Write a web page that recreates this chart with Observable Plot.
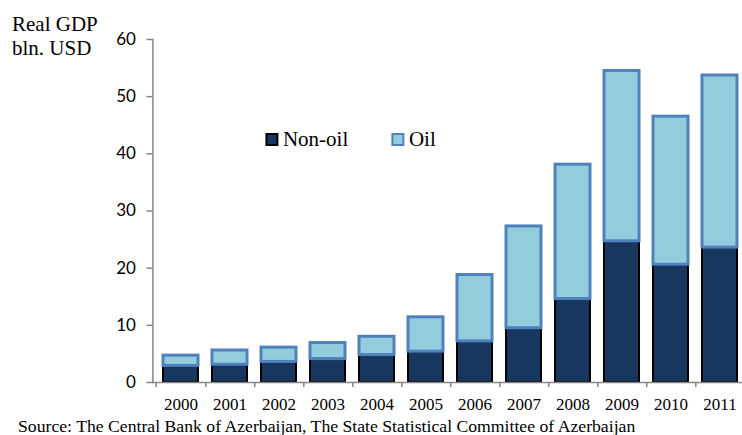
<!DOCTYPE html>
<html>
<head>
<meta charset="utf-8">
<script src="https://cdn.jsdelivr.net/npm/d3@7"></script>
<script src="https://cdn.jsdelivr.net/npm/@observablehq/plot@0.6"></script>
<style>
  html, body { margin: 0; padding: 0; background: #fff; overflow: hidden; }
  #chart { position: relative; width: 742px; height: 435px; overflow: hidden; }
  #chart svg { position: absolute; left: 0; top: 0; max-width: none; }
  .serif { font-family: "Liberation Serif", "Times New Roman", serif; color: #000; position: absolute; }
  #title { left: 12px; top: 12px; font-size: 21px; line-height: 24px; }
  #source { left: 18px; top: 418px; font-size: 17.7px; line-height: 17px; white-space: nowrap; }
</style>
</head>
<body>
<div id="chart">
  <div id="title" class="serif">Real GDP<br>bln. USD</div>
  <div id="source" class="serif">Source: The Central Bank of Azerbaijan, The State Statistical Committee of Azerbaijan</div>
</div>
<script>
// Real GDP of Azerbaijan split into non-oil and oil sectors, bln. USD
const years  = ["2000","2001","2002","2003","2004","2005","2006","2007","2008","2009","2010","2011"];
const nonOil = [2.9, 3.1, 3.6, 4.1, 4.8, 5.4, 7.2, 9.5, 14.6, 24.7, 20.6, 23.6];
const oil    = [1.8, 2.5, 2.5, 2.8, 3.2, 6.0, 11.6, 17.8, 23.5, 29.8, 25.9, 30.1];
const yTicks = [0, 10, 20, 30, 40, 50, 60];

const series = ["Non-oil", "Oil"];
const fills   = { "Non-oil": "#17375E", "Oil": "#93CDDD" };
const strokes = { "Non-oil": "#000000", "Oil": "#4F81BD" };

const nonOilRows = years.map((year, i) => ({ year, y1: 0, y2: nonOil[i] }));
const oilRows    = years.map((year, i) => ({ year, y1: nonOil[i], y2: nonOil[i] + oil[i] }));

const axisGrey = "#868686";
const serifFont = "'Liberation Serif', 'Times New Roman', serif";

const plotWidth = 748;
const left = 152.4;
const halfStep = (plotWidth - left) / years.length / 2;

// legend entries placed inside the plot frame, left to right
const legendOffsets = { "Non-oil": 119, "Oil": 245 };
const legendMarks = series.flatMap(s => [
  Plot.dot([s], { frameAnchor: "top-left", dx: legendOffsets[s], dy: 100, symbol: "square", r: 6.2,
    fill: fills[s], stroke: strokes[s], strokeWidth: 2 }),
  Plot.text([s], { text: d => d, frameAnchor: "top-left", dx: legendOffsets[s] + 11, dy: 100,
    textAnchor: "start", lineAnchor: "middle", fontFamily: serifFont, fontSize: 21, fill: "#000" })
]);

const plot = Plot.plot({
  width: plotWidth,
  height: 435,
  marginLeft: left,
  marginRight: 0,
  marginTop: 39,
  marginBottom: 53,
  style: { background: "transparent", overflow: "visible", maxWidth: "none" },
  x: { type: "band", domain: years, paddingInner: 0.28, paddingOuter: 0.14, axis: null, label: null },
  y: { domain: [0, 60], axis: null, label: null },
  marks: [
    Plot.barY(nonOilRows, { x: "year", y1: "y1", y2: "y2", fill: fills["Non-oil"], stroke: strokes["Non-oil"], strokeWidth: 2 }),
    Plot.barY(oilRows, { x: "year", y1: "y1", y2: "y2", fill: fills["Oil"], stroke: strokes["Oil"], strokeWidth: 3 }),
    Plot.frame({ anchor: "left", stroke: axisGrey, strokeWidth: 1.5 }),
    Plot.frame({ anchor: "bottom", stroke: axisGrey, strokeWidth: 1.5 }),
    Plot.axisY({ ticks: yTicks, tickSize: 6, tickPadding: 11, stroke: axisGrey, strokeWidth: 1.5, label: null,
      fontFamily: "Lato, 'Open Sans', sans-serif", fontSize: 17, fill: "#000" }),
    // boundary ticks between the year bands
    Plot.axisX({ tickSize: 5, text: null, dx: halfStep, stroke: axisGrey, strokeWidth: 1.5, label: null }),
    Plot.axisX({ ticks: [years[0]], tickSize: 5, text: null, dx: -halfStep, stroke: axisGrey, strokeWidth: 1.5, label: null }),
    Plot.axisX({ tickSize: 0, tickPadding: 15, label: null, fontFamily: serifFont, fontSize: 17, fill: "#000" }),
    ...legendMarks
  ]
});

document.getElementById("chart").prepend(plot);
</script>
</body>
</html>
